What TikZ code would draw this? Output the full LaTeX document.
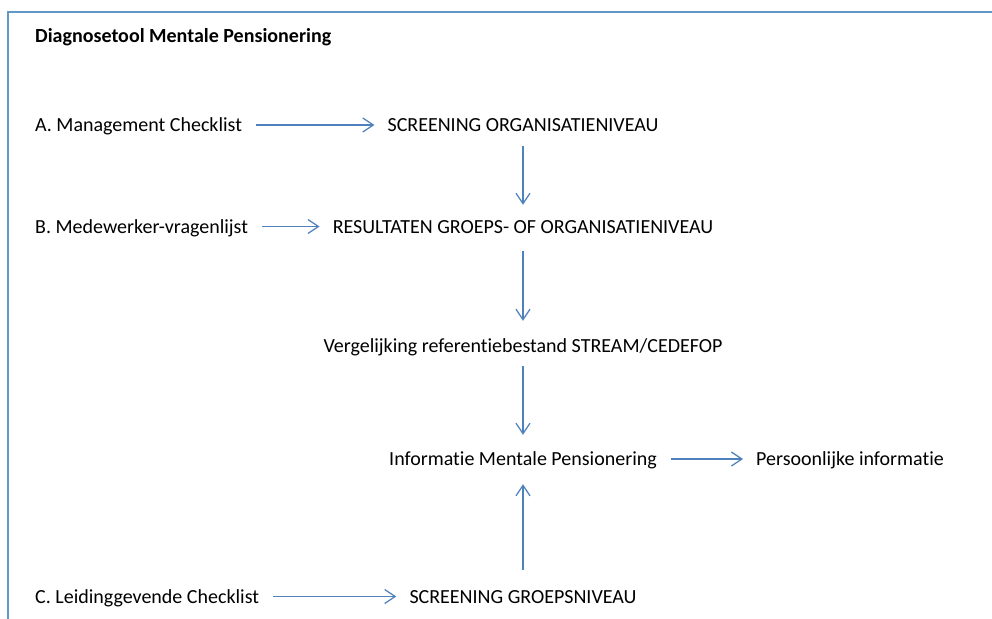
\documentclass[tikz,border=0pt]{standalone}
\usepackage{fontspec}
\setmainfont{Carlito}[Ligatures={NoCommon,NoRequired}]
\usetikzlibrary{arrows.meta}
\definecolor{framecol}{RGB}{98,152,200}
\definecolor{arrowcol}{RGB}{79,129,189}
\begin{document}
\begin{tikzpicture}[x=1pt,y=-1pt,
  lbl/.style={inner sep=0pt, text height=13pt, text depth=0pt,
              font=\fontsize{20}{24}\selectfont},
  leftlbl/.style={lbl, anchor=base west},
  midlbl/.style={lbl, anchor=base},
  link/.style={draw=arrowcol, line width=1.25pt,
               -{Straight Barb[length=10.5pt,width=14pt]}},
  hlink/.style={link, shorten <=14pt, shorten >=13pt},
]
\useasboundingbox (0,0) rectangle (992,618);

% open frame: top and left edges
\draw[framecol, line width=2.2pt] (8,640) -- (8,12) -- (1010,12);

% title
\node[leftlbl, font=\fontsize{20}{24}\selectfont\bfseries] (title) at (35,42) {Diagnosetool Mentale Pensionering};

% inputs on the left
\node[leftlbl] (mc) at (35,131.5) {A. Management Checklist};
\node[leftlbl] (mv) at (35,233) {B. Medewerker-vragenlijst};
\node[leftlbl] (lc) at (35,603) {C. Leidinggevende Checklist};

% central column
\node[midlbl] (so) at (523,131.5) {SCREENING ORGANISATIENIVEAU};
\node[midlbl] (rg) at (523,233) {RESULTATEN GROEPS- OF ORGANISATIENIVEAU};
\node[midlbl] (vr) at (523,352) {Vergelijking referentiebestand STREAM/CEDEFOP};
\node[midlbl] (im) at (523,465.5) {Informatie Mentale Pensionering};
\node[midlbl] (sg) at (523,603) {SCREENING GROEPSNIVEAU};

% output
\node[leftlbl] (pi) at (756,465.5) {Persoonlijke informatie};

% horizontal connectors
\draw[hlink] (mc) -- (so);
\draw[hlink] (mv) -- (rg);
\draw[hlink] (lc) -- (sg);
\draw[hlink] (im) -- (pi);

% vertical connectors
\draw[link, shorten <=14.5pt, shorten >=15pt] (so.south) -- (rg.north);
\draw[link, shorten <=18pt, shorten >=18pt] (rg.south) -- (vr.north);
\draw[link, shorten <=14pt, shorten >=17.5pt] (vr.south) -- (im.north);
\draw[link, shorten <=20pt, shorten >=18.5pt] (sg.north) -- (im.south);
\end{tikzpicture}
\end{document}
